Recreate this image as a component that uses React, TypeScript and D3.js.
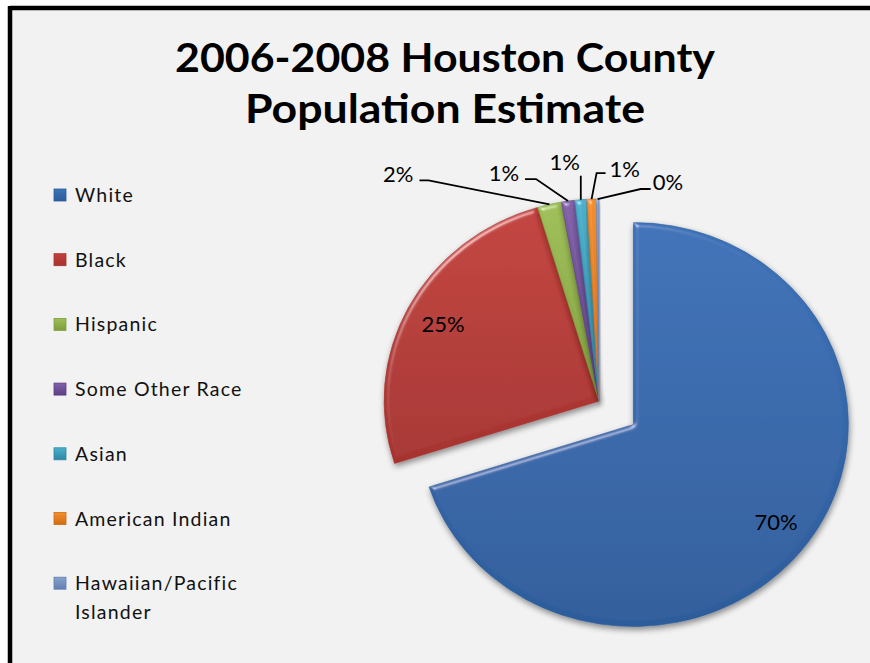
import * as React from 'react';
import * as d3 from 'd3';

// chart values
const categories = ['White', 'Black', 'Hispanic', 'Some Other Race', 'Asian', 'American Indian', 'Hawaiian/Pacific Islander'];
const legendLines = [['White'], ['Black'], ['Hispanic'], ['Some Other Race'], ['Asian'], ['American Indian'], ['Hawaiian/Pacific', 'Islander']];
const shares = [70.0, 25.4, 1.8, 1.0, 0.9, 0.7, 0.2];
const titleLines = ['2006-2008 Houston County', 'Population Estimate'];

// look
const colours = [
  ['#3d72b8', '#2d5c9b'],
  ['#c2413c', '#a6332f'],
  ['#9fbf58', '#7f9e3c'],
  ['#8160a8', '#5e3f86'],
  ['#4bb0cb', '#2d87a3'],
  ['#f48f2d', '#cf6c13'],
  ['#89a2ce', '#627fb0'],
];
const explode = [40, 0, 0, 0, 0, 0, 0];
// outside label layout: elbow offset from arc, tail, text offset
const labelLayout: any[] = [
  { inside: true },
  { inside: true },
  { ex: -121, ey: -24, tail: -9, tx: -6, ty: 2, anchor: 'end' },
  { ex: -32, ey: -22, tail: -11, tx: -6, ty: 2, anchor: 'end' },
  { ex: 0, ey: -24, tail: 0, tx: -1, ty: -6, anchor: 'end' },
  { ex: 5, ey: -26, tail: 9, tx: 4, ty: 4, anchor: 'start' },
  { ex: 43, ey: -10, tail: 10, tx: 2, ty: 1, anchor: 'start' },
];

const W = 870;
const H = 663;
const cx = 599;
const cy = 401;
const R = 202;
const SX = 1.064;

export default function App() {
  const pie = d3.pie<number>().sort(null).value(d => d).startAngle(0).endAngle(2 * Math.PI);
  const arcs = pie(shares);
  const total = d3.sum(shares);
  const arc = d3.arc<d3.PieArcDatum<number>>().innerRadius(0).outerRadius(R);
  const pct = (v: number) => Math.round((v / total) * 100) + '%';

  const pt = (a: number, r: number) => [cx + SX * Math.sin(a) * r, cy - Math.cos(a) * r];
  const offset = (d: d3.PieArcDatum<number>, i: number) => {
    const m = (d.startAngle + d.endAngle) / 2;
    return [Math.sin(m) * explode[i], -Math.cos(m) * explode[i]];
  };

  const legendY = d3.scaleLinear().domain([0, 1]).range([195, 259.7]);
  const font = 'Lato, "Open Sans", sans-serif';

  return (
    <svg width={W} height={H} style={{ position: 'absolute', left: 0, top: 0, display: 'block' }}>
      <defs>
        {colours.map((c, i) => (
          <linearGradient key={i} id={'g' + i} x1="0" y1="0" x2="0" y2="1">
            <stop offset="0" stopColor={c[0]} />
            <stop offset="1" stopColor={c[1]} />
          </linearGradient>
        ))}
        <filter id="bevel" x="-10%" y="-10%" width="125%" height="125%">
          <feGaussianBlur in="SourceAlpha" stdDeviation="2.5" result="blur" />
          <feSpecularLighting in="blur" surfaceScale="3" specularConstant="0.7" specularExponent="40" lightingColor="#ffffff" result="spec">
            <feDistantLight azimuth="235" elevation="40" />
          </feSpecularLighting>
          <feComposite in="spec" in2="SourceAlpha" operator="in" result="specIn" />
          <feComposite in="SourceGraphic" in2="specIn" operator="arithmetic" k1="0" k2="1" k3="0.6" k4="0" result="lit" />
          <feGaussianBlur in="SourceAlpha" stdDeviation="3" result="sb" />
          <feOffset in="sb" dx="1" dy="3" result="so" />
          <feComponentTransfer in="so" result="shadow">
            <feFuncA type="linear" slope="0.45" />
          </feComponentTransfer>
          <feMerge>
            <feMergeNode in="shadow" />
            <feMergeNode in="lit" />
          </feMerge>
        </filter>
      </defs>

      <rect x={10} y={8} width={W - 10} height={H - 8} fill="#f2f2f2" />
      <line x1={10} y1={8} x2={W} y2={8} stroke="#000" strokeWidth={4.5} />
      <line x1={10} y1={6} x2={10} y2={H} stroke="#000" strokeWidth={4.5} />

      {titleLines.map((t, i) => (
        <text key={t} x={445} y={72 + i * 51} textAnchor="middle" fontFamily={font} fontWeight={700}
          fontSize={40} textLength={i === 0 ? 540 : 400} lengthAdjust="spacingAndGlyphs" fill="#000">{t}</text>
      ))}

      {/* legend */}
      {categories.map((c, i) => {
        const y = legendY(i);
        return (
          <g key={c}>
            <rect x={54} y={y - 6} width={12} height={12} fill={'url(#g' + i + ')'} stroke={colours[i][1]} strokeWidth={0.8} />
            {legendLines[i].map((line, j) => (
              <text key={j} x={75} y={y + 7 + j * 29} fontFamily={font} fontSize={19.5} letterSpacing={1.2} fill="#111">{line}</text>
            ))}
          </g>
        );
      })}

      {/* slices */}
      {arcs.map((d, i) => {
        const [ox, oy] = offset(d, i);
        return (
          <g key={i} transform={`translate(${cx},${cy}) scale(${SX},1) translate(${ox},${oy})`} filter="url(#bevel)">
            <path d={arc(d) || ''} fill={'url(#g' + i + ')'} stroke={colours[i][1]} strokeWidth={0.6} />
          </g>
        );
      })}

      {/* labels */}
      {arcs.map((d, i) => {
        const m = (d.startAngle + d.endAngle) / 2;
        const L = labelLayout[i];
        const [ox, oy] = offset(d, i);
        if (L.inside) {
          const [x, y] = pt(m, R * 0.82);
          return (
            <text key={i} x={x + ox * SX} y={y + oy + 8} textAnchor="middle" fontFamily={font} fontSize={22} fill="#000">
              {pct(shares[i])}
            </text>
          );
        }
        const [ax, ay] = pt(m, R);
        const ex = ax + L.ex, ey = ay + L.ey;
        const tx = ex + L.tail;
        return (
          <g key={i}>
            <polyline points={`${ax},${ay} ${ex},${ey} ${tx},${ey}`} fill="none" stroke="#000" strokeWidth={1.8} />
            <text x={tx + L.tx} y={ey + L.ty} textAnchor={L.anchor} fontFamily={font} fontSize={22} fill="#000">
              {pct(shares[i])}
            </text>
          </g>
        );
      })}
    </svg>
  );
}
